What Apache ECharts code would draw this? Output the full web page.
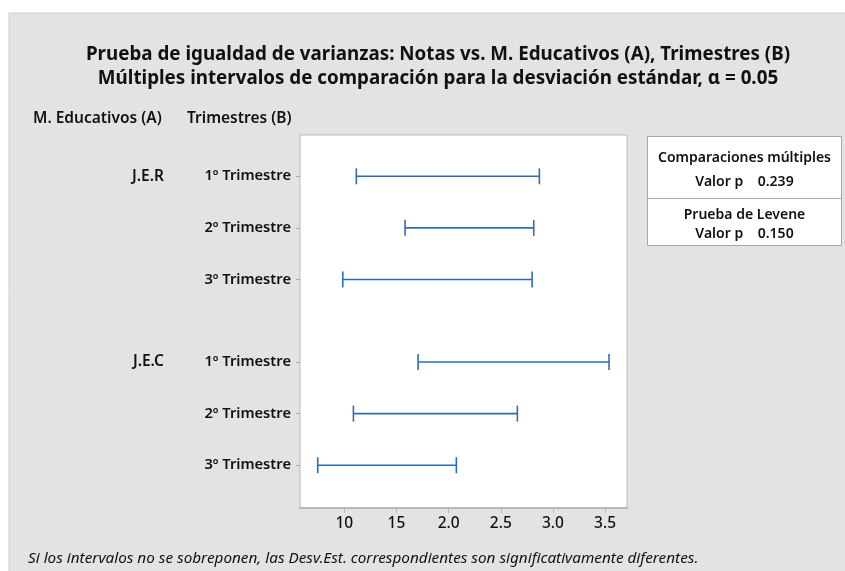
<!DOCTYPE html>
<html><head><meta charset="utf-8">
<script src="https://cdn.jsdelivr.net/npm/echarts@6/dist/echarts.min.js"></script>
<style>html,body{margin:0;padding:0;background:#fff}#c{width:845px;height:571px}</style>
</head><body><div id="c"></div>
<script>
const groups = ["J.E.R", "J.E.C"];
const trimestres = ["1º Trimestre", "2º Trimestre", "3º Trimestre"];
const lowerJER = [1.115, 1.582, 0.985];
const upperJER = [2.870, 2.816, 2.800];
const lowerJEC = [1.707, 1.087, 0.745];
const upperJEC = [3.538, 2.659, 2.074];
const tickValues = [1.0, 1.5, 2.0, 2.5, 3.0, 3.5];
const tickLabels = ["10", "15", "2.0", "2.5", "3.0", "3.5"];
const pMultiple = "0.239";
const pLevene = "0.150";

const FONT = "Noto Sans";
const rows = [];
const lows = [lowerJER, lowerJEC], ups = [upperJER, upperJEC];
groups.forEach((g, gi) => trimestres.forEach((t, ti) => {
  const pos = gi * 3.6 + ti + 0.8;
  rows.push({ g: ti === 0 ? g : "", t, pos, lo: lows[gi][ti], hi: ups[gi][ti] });
}));
const rowPos = rows.map(r => r.pos);
const groupPos = rows.filter(r => r.g).map(r => r.pos);
const labelAt = key => v => { const r = rows.find(r => Math.abs(r.pos - v) < 1e-6); return r ? r[key] : ""; };
const boxFont = '600 14px "' + FONT + '"';

const chart = echarts.init(document.getElementById('c'));
chart.setOption({
  animation: false,
  backgroundColor: '#ffffff',
  textStyle: { fontFamily: FONT },
  graphic: [
    { type: 'rect', shape: { x: 9, y: 13, width: 845, height: 571 }, style: { fill: '#e3e3e3', stroke: '#d0d0d0', lineWidth: 1 }, z: -10 },
    { type: 'group', left: 645, top: 136, children: [
      { type: 'rect', shape: { x: 0, y: 0, width: 194, height: 109 }, style: { fill: '#fff', stroke: '#a8a8a8', lineWidth: 1 } },
      { type: 'line', shape: { x1: 0, y1: 62, x2: 194, y2: 62 }, style: { stroke: '#a8a8a8', lineWidth: 1 } },
      { type: 'text', x: 97, y: 22, style: { text: 'Comparaciones múltiples', align: 'center', verticalAlign: 'middle', font: boxFont, fill: '#111' } },
      { type: 'text', x: 97, y: 46, style: { text: 'Valor p    ' + pMultiple, align: 'center', verticalAlign: 'middle', font: boxFont, fill: '#111' } },
      { type: 'text', x: 97, y: 79, style: { text: 'Prueba de Levene', align: 'center', verticalAlign: 'middle', font: boxFont, fill: '#111' } },
      { type: 'text', x: 97, y: 98, style: { text: 'Valor p    ' + pLevene, align: 'center', verticalAlign: 'middle', font: boxFont, fill: '#111' } }
    ]}
  ],
  title: [
    { text: 'Prueba de igualdad de varianzas: Notas vs. M. Educativos (A), Trimestres (B)\nMúltiples intervalos de comparación para la desviación estándar, α = 0.05',
      left: 433, top: 38, textAlign: 'center',
      textStyle: { fontFamily: FONT, fontSize: 18.8, fontWeight: 'bold', color: '#111', lineHeight: 24 } },
    { text: 'M. Educativos (A)', left: 28, top: 106, textStyle: { fontFamily: FONT, fontSize: 15.5, fontWeight: 600, color: '#111' } },
    { text: 'Trimestres (B)', left: 182, top: 106, textStyle: { fontFamily: FONT, fontSize: 15.5, fontWeight: 600, color: '#111' } },
    { text: 'Si los intervalos no se sobreponen, las Desv.Est. correspondientes son significativamente diferentes.',
      left: 23, top: 546, textStyle: { fontFamily: FONT, fontSize: 15.3, fontStyle: 'italic', fontWeight: 'normal', color: '#111' } }
  ],
  grid: { left: 300, top: 135, width: 327, height: 373, show: true, backgroundColor: '#fff', borderColor: '#b8b8b8', borderWidth: 1 },
  xAxis: {
    type: 'value', min: 0.575, max: 3.71,
    splitLine: { show: false },
    axisLine: { show: true, onZero: false, lineStyle: { color: '#b8b8b8', width: 2 } },
    axisTick: { show: true, customValues: tickValues, length: 5, lineStyle: { color: '#b8b8b8' } },
    axisLabel: { customValues: tickValues, margin: 8, fontSize: 15.5, fontWeight: 500, color: '#111', fontFamily: FONT,
      formatter: v => { const i = tickValues.findIndex(t => Math.abs(t - v) < 1e-6); return i >= 0 ? tickLabels[i] : ''; } }
  },
  yAxis: [
    { type: 'value', min: 0, max: 7.23, inverse: true, splitLine: { show: false },
      axisLine: { show: false, onZero: false },
      axisTick: { show: true, customValues: rowPos, length: 4, lineStyle: { color: '#aaa' } },
      axisLabel: { customValues: rowPos, margin: 9, fontSize: 14.7, fontWeight: 600, color: '#111', fontFamily: FONT,
        formatter: labelAt('t') } },
    { type: 'value', min: 0, max: 7.23, inverse: true, position: 'left', offset: 128, splitLine: { show: false },
      axisLine: { show: false, onZero: false }, axisTick: { show: false },
      axisLabel: { customValues: groupPos, margin: 8, fontSize: 15.5, fontWeight: 600, color: '#111', fontFamily: FONT,
        formatter: labelAt('g') } }
  ],
  series: [{
    type: 'custom',
    data: rows.map(r => [r.lo, r.hi, r.pos]),
    encode: { x: [0, 1], y: 2 },
    renderItem: (params, api) => {
      const a = api.coord([api.value(0), api.value(2)]);
      const b = api.coord([api.value(1), api.value(2)]);
      const h = 8;
      const st = { stroke: '#2e6db4', lineWidth: 1.6 };
      return { type: 'group', children: [
        { type: 'line', shape: { x1: a[0], y1: a[1], x2: b[0], y2: b[1] }, style: st },
        { type: 'line', shape: { x1: a[0], y1: a[1] - h, x2: a[0], y2: a[1] + h }, style: st },
        { type: 'line', shape: { x1: b[0], y1: b[1] - h, x2: b[0], y2: b[1] + h }, style: st }
      ]};
    }
  }]
});
</script></body></html>
